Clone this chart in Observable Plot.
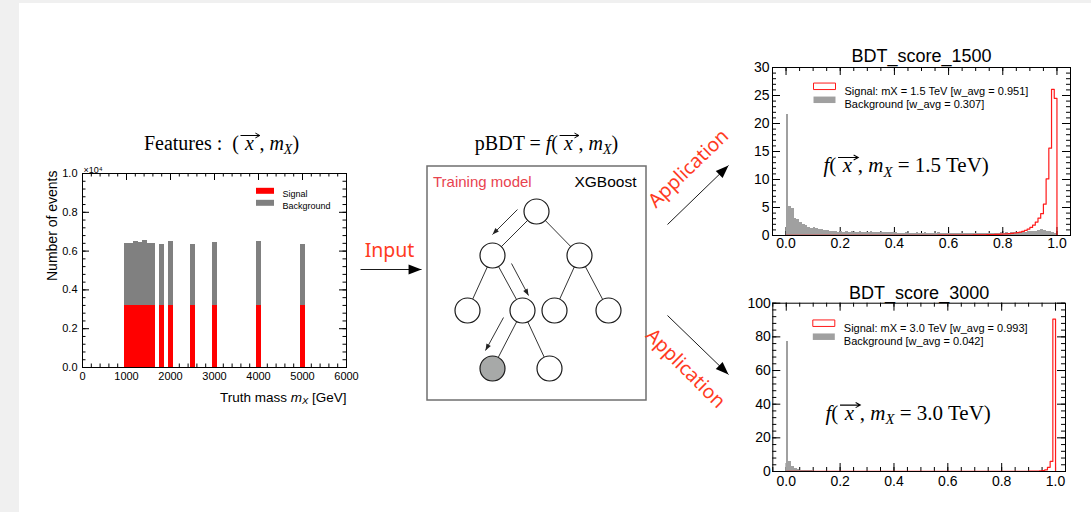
<!DOCTYPE html>
<html><head><meta charset="utf-8">
<script src="https://cdn.jsdelivr.net/npm/d3@7"></script>
<script src="https://cdn.jsdelivr.net/npm/@observablehq/plot@0.6"></script>
<style>
html,body{margin:0;padding:0;background:#f0f0f0;}
#page{position:relative;width:1091px;height:512px;overflow:hidden;background:#f0f0f0;}
#panel{position:absolute;left:19px;top:3px;right:0;bottom:0;background:#fff;}
</style></head>
<body><div id="page"><div id="panel"></div></div>
<script>
// ---------------- data ----------------
const massPoints   = [1000,1100,1200,1300,1400,1500,1600,1800,2000,2500,3000,4000,5000];
const totalEvents  = [0.637,0.641,0.650,0.645,0.655,0.637,0.637,0.636,0.651,0.636,0.642,0.651,0.632]; // x10^4
const signalEvents = [0.322,0.322,0.322,0.322,0.322,0.322,0.322,0.322,0.322,0.322,0.322,0.322,0.322];
const featureLegend = ["Signal","Background"];
const featureXTicks = [0,1000,2000,3000,4000,5000,6000];
const featureYTicks = [0,0.2,0.4,0.6,0.8,1.0];

const scoreXTicks = [0,0.2,0.4,0.6,0.8,1.0];
const score1500YTicks = [0,5,10,15,20,25,30];
const score3000YTicks = [0,20,40,60,80,100];

const bg1500 = [
 21.6,5.2,4.8,3.1,2.8,2.4,2.0,1.7,1.5,1.3,
 1.4,1.2,1.0,1.1,0.9,0.9,0.8,0.8,0.7,0.6,
 0.7,0.6,0.8,0.6,0.7,0.6,0.6,0.7,0.6,0.5,
 0.6,0.7,0.5,0.6,0.5,0.6,0.5,0.5,0.6,0.5,
 0.5,0.4,0.3,0.4,0.5,0.3,0.4,0.4,0.5,0.4,
 0.4,0.5,0.3,0.4,0.4,0.3,0.5,0.4,0.3,0.4,
 0.4,0.3,0.4,0.3,0.4,0.3,0.3,0.4,0.3,0.3,
 0.4,0.3,0.3,0.4,0.4,0.3,0.4,0.3,0.4,0.5,
 0.4,0.5,0.4,0.5,0.5,0.6,0.5,0.6,0.6,0.7,
 0.7,0.8,0.8,0.9,1.0,0.9,0.8,0.7,0.6,0.4];
const sig1500 = [
 0.01,0.01,0.01,0.01,0.01,0.01,0.01,0.01,0.01,0.01,
 0.01,0.01,0.01,0.01,0.01,0.01,0.01,0.01,0.01,0.01,
 0.01,0.01,0.01,0.01,0.01,0.01,0.01,0.01,0.01,0.01,
 0.01,0.01,0.01,0.02,0.02,0.02,0.02,0.02,0.02,0.02,
 0.02,0.02,0.02,0.02,0.02,0.03,0.03,0.03,0.03,0.03,
 0.03,0.03,0.04,0.04,0.04,0.04,0.05,0.05,0.05,0.05,
 0.06,0.06,0.06,0.07,0.07,0.08,0.08,0.09,0.09,0.10,
 0.10,0.11,0.12,0.13,0.14,0.15,0.17,0.19,0.21,0.24,
 0.27,0.30,0.34,0.39,0.45,0.52,0.62,0.75,0.92,1.15,
 1.45,1.85,2.40,3.10,3.90,5.60,10.1,15.6,26.1,24.5];
const bg3000 = [
 77.0,6.2,3.0,1.6,1.0,0.7,0.5,0.4,0.35,0.3,
 0.25,0.22,0.2,0.18,0.16,0.15,0.14,0.12,0.12,0.1,
 0.1,0.1,0.09,0.09,0.08,0.08,0.08,0.07,0.07,0.07,
 0.06,0.06,0.06,0.06,0.05,0.05,0.05,0.05,0.05,0.05,
 0.04,0.04,0.04,0.04,0.04,0.04,0.04,0.03,0.03,0.03,
 0.03,0.03,0.03,0.03,0.03,0.03,0.03,0.03,0.03,0.03,
 0.03,0.02,0.02,0.02,0.02,0.02,0.02,0.02,0.02,0.02,
 0.02,0.02,0.02,0.02,0.02,0.02,0.02,0.02,0.02,0.02,
 0.02,0.02,0.02,0.02,0.02,0.02,0.02,0.02,0.02,0.02,
 0.02,0.02,0.02,0.02,0.02,0.02,0.02,0.01,0.01,0.01];
const sig3000 = [
 0.02,0.02,0.02,0.02,0.02,0.02,0.02,0.02,0.02,0.02,
 0.02,0.02,0.02,0.02,0.02,0.02,0.02,0.02,0.02,0.02,
 0.02,0.02,0.02,0.02,0.02,0.02,0.02,0.02,0.02,0.02,
 0.03,0.03,0.03,0.03,0.03,0.03,0.03,0.03,0.03,0.03,
 0.03,0.03,0.03,0.03,0.03,0.04,0.04,0.04,0.04,0.04,
 0.04,0.04,0.04,0.04,0.05,0.05,0.05,0.05,0.05,0.05,
 0.05,0.05,0.06,0.06,0.06,0.06,0.06,0.06,0.07,0.07,
 0.07,0.07,0.07,0.08,0.08,0.08,0.08,0.08,0.09,0.09,
 0.09,0.10,0.10,0.11,0.11,0.12,0.13,0.14,0.15,0.16,
 0.18,0.21,0.25,0.30,0.40,0.55,1.0,2.5,6.0,90.5];
const legend1500 = ["Signal: mX = 1.5 TeV [w_avg = 0.951]","Background [w_avg = 0.307]"];
const legend3000 = ["Signal: mX = 3.0 TeV [w_avg = 0.993]","Background [w_avg = 0.042]"];
const title1500 = "BDT_score_1500";
const title3000 = "BDT_score_3000";
const formula1500 = "f(x\u20D7, m_X = 1.5 TeV)";
const formula3000 = "f(x\u20D7, m_X = 3.0 TeV)";
const featuresTitle = "Features :  (x\u20D7, m_X)";
const pbdtTitle = "pBDT = f(x\u20D7, m_X)";
const featuresXLabel = "Truth mass m_X [GeV]";
const featuresYLabel = "Number of events";

// diagram layout (page pixel space)
const treeNodes = [
 {id:"n0",x:536,y:211},{id:"n1",x:492,y:255},{id:"n2",x:579,y:255},
 {id:"n3",x:467,y:310},{id:"n4",x:522,y:310},{id:"n5",x:554,y:310},{id:"n6",x:608,y:310},
 {id:"n7",x:492,y:368,selected:true},{id:"n8",x:549,y:368}];
const treeEdges = [["n0","n1"],["n0","n2"],["n1","n3"],["n1","n4"],["n2","n5"],["n2","n6"],["n4","n7"],["n4","n8"]];
const bigArrows = [
 {x1:360,y1:269,x2:421,y2:269},
 {x1:667,y1:224,x2:728,y2:165},
 {x1:667,y1:315,x2:728,y2:374}];
const smallArrows = [
 {x1:517,y1:209,x2:492,y2:234},
 {x1:511,y1:263,x2:528,y2:295},
 {x1:503,y1:317,x2:485,y2:350}];
const flowLabels = [
 {text:"Input",x:389,y:250,rotate:0},
 {text:"Application",x:688,y:168,rotate:-44},
 {text:"Application",x:685,y:368,rotate:45}];
const trainingBox = [{x1:427,x2:646,y1:166,y2:400}];

// ---------------- helpers ----------------
const SANS = "'Liberation Sans', Arial, Helvetica, sans-serif";
const SERIF = "'Liberation Serif', 'Times New Roman', serif";
const NS = "http://www.w3.org/2000/svg";
const page = document.getElementById("page");
function place(svg, left, top) {
  svg.style.position = "absolute"; svg.style.left = left + "px"; svg.style.top = top + "px";
  page.appendChild(svg);
}
function swatch(w, h) { return {draw(ctx) { ctx.rect(-w / 2, -h / 2, w, h); }}; }
const arrowHead = {draw(ctx, size) { const L = Math.sqrt(size); ctx.moveTo(0, 0); ctx.lineTo(-0.38 * L, L); ctx.lineTo(0.38 * L, L); ctx.closePath(); }};
const esc = s => s.replace(/&/g, "&amp;").replace(/</g, "&lt;");
function richMarkup(str) {
  const segs = []; let i = 0, plain = "";
  const flush = () => { if (plain) { segs.push({t: plain}); plain = ""; } };
  while (i < str.length) {
    if (str.startsWith("f(", i)) { flush(); segs.push({t: "f", it: true}); plain = "("; i += 2; }
    else if (str.startsWith("x\u20D7", i)) { flush(); segs.push({t: "x", it: true, dx: "0.3em", cls: "vecx"}); segs.push({restoreDx: "0.28em"}); i += 2; }
    else if (str.startsWith("m_X", i)) { flush(); segs.push({t: "m", it: true}); segs.push({t: "X", it: true, fs: "70%", dy: "0.3em"}); segs.push({restore: "-0.21em"}); i += 3; }
    else { plain += str[i]; i++; }
  }
  flush();
  let html = "", pending = null, pendingDx = null;
  for (const s of segs) {
    if (s.restore) { pending = s.restore; continue; }
    if (s.restoreDx) { pendingDx = s.restoreDx; continue; }
    const a = [];
    if (s.cls) a.push(`class="${s.cls}"`);
    if (s.it) a.push('font-style="italic"');
    if (s.fs) a.push(`font-size="${s.fs}"`);
    let dx = s.dx; if (pendingDx) { dx = pendingDx; pendingDx = null; }
    if (dx) a.push(`dx="${dx}"`);
    let dy = s.dy; if (pending) { dy = pending; pending = null; }
    if (dy) a.push(`dy="${dy}"`);
    html += `<tspan ${a.join(" ")}>${esc(s.t)}</tspan>`;
  }
  return html;
}
function applyRich(svg) {
  svg.querySelectorAll("g.rich text").forEach(t => { t.innerHTML = richMarkup(t.textContent); });
}
const layoutJobs = [];
function runLayoutJobs() { layoutJobs.forEach(j => j()); }
// vector arrow accent above each italic x (needs the svg in the DOM)
function drawVectorAccents(svg) {
  const job = () => {
    svg.querySelectorAll("path.vec-accent").forEach(p => p.remove());
    svg.querySelectorAll("tspan.vecx").forEach(ts => {
      const text = ts.closest("text");
      let idx = 0;
      for (const n of text.childNodes) { if (n === ts) break; idx += n.textContent.length; }
      const p = text.getStartPositionOfChar(idx), q = text.getEndPositionOfChar(idx);
      const F = parseFloat(getComputedStyle(ts).fontSize);
      const y = p.y - 0.7 * F, x0 = p.x - 0.22 * F, x1 = q.x + 0.3 * F;
      const path = document.createElementNS(NS, "path");
      path.setAttribute("class", "vec-accent");
      path.setAttribute("d", `M${x0},${y}H${x1}M${x1 - 0.22 * F},${y - 0.12 * F}L${x1},${y}L${x1 - 0.22 * F},${y + 0.12 * F}`);
      path.setAttribute("fill", "none");
      path.setAttribute("stroke", "currentColor");
      path.setAttribute("stroke-width", (0.05 * F).toFixed(2));
      const tr = text.getAttribute("transform"); if (tr) path.setAttribute("transform", tr);
      text.parentNode.appendChild(path);
    });
  };
  job(); layoutJobs.push(job);
}
function rootTicks(o) {
  const W = o.width - o.ml - o.mr, H = o.height - o.mt - o.mb;
  const inX = v => v >= o.xDomain[0] - 1e-9 && v <= o.xDomain[1] + 1e-9;
  const inY = v => v >= o.yDomain[0] - 1e-9 && v <= o.yDomain[1] + 1e-9;
  const minorX = d3.range(o.xMinor[0], o.xMinor[1] + 1).map(k => k * o.xMinor[2]).filter(inX);
  const minorY = d3.range(o.yMinor[0], o.yMinor[1] + 1).map(k => k * o.yMinor[2]).filter(inY);
  const s = {stroke: "#000", strokeWidth: 1};
  return [
    Plot.tickX(o.xTicks, {x: d => d, insetTop: H - o.maj, ...s}),
    Plot.tickX(o.xTicks, {x: d => d, insetBottom: H - o.maj, ...s}),
    Plot.tickX(minorX, {x: d => d, insetTop: H - o.min, ...s}),
    Plot.tickX(minorX, {x: d => d, insetBottom: H - o.min, ...s}),
    Plot.tickY(o.yTicks, {y: d => d, insetRight: W - o.maj, ...s}),
    Plot.tickY(o.yTicks, {y: d => d, insetLeft: W - o.maj, ...s}),
    Plot.tickY(minorY, {y: d => d, insetRight: W - o.min, ...s}),
    Plot.tickY(minorY, {y: d => d, insetLeft: W - o.min, ...s})
  ];
}
function rootFrame(o) {
  return [
    Plot.frame({stroke: "#000", strokeWidth: 1}),
    Plot.axisX(o.xTicks, {tickSize: 0, tickPadding: o.xPad, tickFormat: o.xFormat, label: null}),
    Plot.axisY(o.yTicks, {tickSize: 0, tickPadding: o.yPad, tickFormat: o.yFormat, label: null})
  ];
}

// ---------------- chart A: features ----------------
{
  const o = {width: 350, height: 262, ml: 62, mr: 24, mt: 23, mb: 45,
    xDomain: [0, 6000], yDomain: [0, 1], xTicks: featureXTicks, yTicks: featureYTicks,
    xMinor: [0, 30, 200], yMinor: [0, 25, 0.04], maj: 7, min: 3.5,
    xPad: 5, yPad: 5, xFormat: d => String(d), yFormat: d => d.toFixed(1)};
  const rows = massPoints.flatMap((m, i) => [
    {m, type: "Signal", y1: 0, y2: signalEvents[i]},
    {m, type: "Background", y1: signalEvents[i], y2: totalEvents[i]}]);
  const svg = Plot.plot({
    width: o.width, height: o.height, marginLeft: o.ml, marginRight: o.mr, marginTop: o.mt, marginBottom: o.mb,
    x: {domain: o.xDomain, axis: null}, y: {domain: o.yDomain, axis: null},
    color: {domain: featureLegend, range: ["#ff0000", "#808080"]},
    style: {background: "transparent", fontFamily: SANS, fontSize: "11px", color: "#000", overflow: "visible"},
    marks: [
      ...rootTicks(o),
      Plot.rect(rows, {x1: d => d.m - 42, x2: d => d.m + 70, y1: "y1", y2: "y2", fill: "type", inset: 0, shapeRendering: "crispEdges"}),
      ...rootFrame(o),
      ...featureLegend.map((name, i) => Plot.dot([name], {frameAnchor: "top-left", dx: 182.5, dy: 17.3 + 12 * i, symbol: swatch(18, 6), fill: d => d, stroke: "none"})),
      ...featureLegend.map((name, i) => Plot.text([name], {frameAnchor: "top-left", dx: 200, dy: 17.3 + 12 * i, text: d => d, textAnchor: "start", fontSize: 9})),
      Plot.text(["\u00d710\u2074"], {frameAnchor: "top-left", dx: 1, dy: -7, text: d => d, textAnchor: "start", fontSize: 9}),
      Plot.text([featuresYLabel], {frameAnchor: "top-left", dx: -35, dy: -3, rotate: -90, textAnchor: "end", text: d => d, fontSize: 14}),
      Plot.text([featuresXLabel], {frameAnchor: "bottom-right", dy: 34, lineAnchor: "bottom", textAnchor: "end", text: d => d, fontSize: 13.5, className: "rich"})
    ]
  });
  applyRich(svg);
  place(svg, 20, 150);
}

// ---------------- charts B & C: BDT scores ----------------
function scoreChart(cfg) {
  const o = {width: cfg.width, height: cfg.height, ml: cfg.ml, mr: cfg.mr, mt: cfg.mt, mb: cfg.mb,
    xDomain: cfg.xDomain, yDomain: cfg.yDomain, xTicks: scoreXTicks, yTicks: cfg.yTicks,
    xMinor: [-1, 21, 0.05], yMinor: cfg.yMinor, maj: 8, min: 4,
    xPad: cfg.xPad, yPad: cfg.yPad, xFormat: d => d.toFixed(1), yFormat: d => String(d)};
  const bgRows = cfg.bg.map((v, i) => ({x1: i / 100, x2: (i + 1) / 100, v}));
  const sigPts = cfg.sig.map((v, i) => ({x: i / 100, y: v})).concat([{x: 1, y: 0}]);
  const svg = Plot.plot({
    width: o.width, height: o.height, marginLeft: o.ml, marginRight: o.mr, marginTop: o.mt, marginBottom: o.mb,
    x: {domain: o.xDomain, axis: null}, y: {domain: o.yDomain, axis: null},
    style: {background: "transparent", fontFamily: SANS, fontSize: "14px", color: "#000", overflow: "visible"},
    marks: [
      ...rootTicks(o),
      Plot.rect(bgRows, {x1: "x1", x2: "x2", y1: 0, y2: "v", fill: "#a0a0a0", inset: 0, shapeRendering: "crispEdges"}),
      Plot.line(sigPts, {x: "x", y: "y", curve: "step-after", stroke: "#ff1a1a", strokeWidth: 1.2}),
      ...rootFrame(o),
      Plot.text([cfg.title], {frameAnchor: "top", dy: cfg.titleDy, lineAnchor: "bottom", text: d => d, fontSize: 18}),
      Plot.dot([cfg.legend[0]], {frameAnchor: "top-left", dx: cfg.lx, dy: cfg.ly, symbol: swatch(22, 6.5), fill: "none", stroke: "#ff1a1a", strokeWidth: 1}),
      Plot.dot([cfg.legend[1]], {frameAnchor: "top-left", dx: cfg.lx, dy: cfg.ly + 13.5, symbol: swatch(22, 6.5), fill: "#a0a0a0", stroke: "none"}),
      ...cfg.legend.map((t, i) => Plot.text([t], {frameAnchor: "top-left", dx: cfg.lx + 20, dy: cfg.ly + 0.5 + 13.5 * i, text: d => d, textAnchor: "start", fontSize: 11})),
      Plot.text([cfg.formula], {frameAnchor: "top-left", dx: cfg.fx, dy: cfg.fy, lineAnchor: "bottom", textAnchor: "start", text: d => d, fontFamily: SERIF, fontSize: 21, className: "rich"})
    ]
  });
  applyRich(svg);
  place(svg, cfg.left, cfg.top);
  drawVectorAccents(svg);
}
scoreChart({left: 740, top: 40, width: 351, height: 222, ml: 32, mr: 21, mt: 27, mb: 27,
  xDomain: [-0.05, 1.05], yDomain: [0, 30], yTicks: score1500YTicks, yMinor: [0, 30, 1],
  xPad: 2.5, yPad: 3, bg: bg1500, sig: sig1500, title: title1500, titleDy: -6,
  legend: legend1500, lx: 52, ly: 18.8, fx: 51, fy: 104.7, formula: formula1500});
scoreChart({left: 740, top: 275, width: 351, height: 237, ml: 32.3, mr: 26, mt: 27.7, mb: 41,
  xDomain: [-0.05, 1.037], yDomain: [0, 100], yTicks: score3000YTicks, yMinor: [0, 25, 4],
  xPad: 5, yPad: 2, bg: bg3000, sig: sig3000, title: title3000, titleDy: -4.4,
  legend: legend3000, lx: 51, ly: 20, fx: 52.7, fy: 116.6, formula: formula3000});

// ---------------- overlay: titles, training box, tree, arrows ----------------
{
  const byId = new Map(treeNodes.map(d => [d.id, d]));
  const headDir = d => Math.atan2(d.x2 - d.x1, -(d.y2 - d.y1)) * 180 / Math.PI;
  const svg = Plot.plot({
    width: 1091, height: 512, margin: 0,
    x: {type: "identity", axis: null}, y: {type: "identity", axis: null},
    style: {background: "transparent", overflow: "visible", fontFamily: SANS, color: "#000"},
    marks: [
      Plot.rect(trainingBox, {x1: "x1", x2: "x2", y1: "y1", y2: "y2", fill: "none", stroke: "#6f6f6f", strokeWidth: 1.5}),
      Plot.text(["Training model"], {x: 432.5, y: 186.5, lineAnchor: "bottom", textAnchor: "start", text: d => d, fill: "#e8434f", fontSize: 15}),
      Plot.text(["XGBoost"], {x: 636, y: 186.5, lineAnchor: "bottom", textAnchor: "end", text: d => d, fill: "#000", fontSize: 15.5}),
      Plot.link(treeEdges, {x1: e => byId.get(e[0]).x, y1: e => byId.get(e[0]).y, x2: e => byId.get(e[1]).x, y2: e => byId.get(e[1]).y, stroke: "#333", strokeWidth: 1}),
      Plot.dot(treeNodes.filter(d => !d.selected), {x: "x", y: "y", r: 12.5, fill: "#fff", stroke: "#1a1a1a", strokeWidth: 1.2}),
      Plot.dot(treeNodes.filter(d => d.selected), {x: "x", y: "y", r: 12.5, fill: "#a7a9a8", stroke: "#1a1a1a", strokeWidth: 1.2}),
      Plot.link(bigArrows, {x1: "x1", y1: "y1", x2: "x2", y2: "y2", stroke: "#1a1a1a", strokeWidth: 1}),
      Plot.dot(bigArrows, {x: "x2", y: "y2", r: 7.3, symbol: arrowHead, rotate: headDir, fill: "#000", stroke: "none"}),
      Plot.link(smallArrows, {x1: "x1", y1: "y1", x2: "x2", y2: "y2", stroke: "#333", strokeWidth: 1}),
      Plot.dot(smallArrows, {x: "x2", y: "y2", r: 3.7, symbol: arrowHead, rotate: headDir, fill: "#222", stroke: "none"}),
      Plot.text(flowLabels, {x: "x", y: "y", text: "text", rotate: "rotate", fill: "#ff3b1f", fontSize: 19.5, fontFamily: "'Noto Sans', 'DejaVu Sans', sans-serif"}),
      Plot.text([featuresTitle], {x: 221, y: 149, lineAnchor: "bottom", text: d => d, fontFamily: SERIF, fontSize: 20, fill: "#000", className: "rich"}),
      Plot.text([pbdtTitle], {x: 546, y: 149, lineAnchor: "bottom", text: d => d, fontFamily: SERIF, fontSize: 20, fill: "#000", className: "rich"})
    ]
  });
  applyRich(svg);
  place(svg, 0, 0);
  drawVectorAccents(svg);
}
// re-place the vector accents once all fonts are ready
if (document.fonts && document.fonts.ready) document.fonts.ready.then(runLayoutJobs);
window.addEventListener("load", runLayoutJobs);
</script>
</body></html>
